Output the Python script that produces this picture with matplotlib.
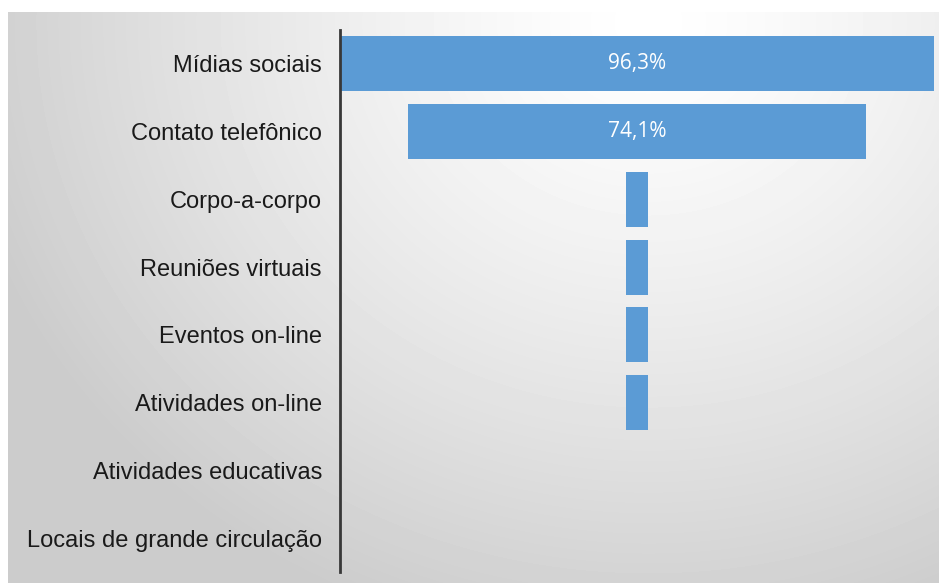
import numpy as np
import matplotlib.pyplot as plt

# funnel data (percent of respondents)
categories = [
    "Mídias sociais",
    "Contato telefônico",
    "Corpo-a-corpo",
    "Reuniões virtuais",
    "Eventos on-line",
    "Atividades on-line",
    "Atividades educativas",
    "Locais de grande circulação",
]
values = [96.3, 74.1, 3.7, 3.7, 3.7, 3.7, 0.0, 0.0]
labels = ["96,3%", "74,1%", "", "", "", "", "", ""]

W, H = 939, 583
fig = plt.figure(figsize=(W / 100, H / 100), dpi=100)
fig.patch.set_facecolor("white")

# gray radial gradient background of the chart area
bg = fig.add_axes([8 / W, 0, 1 - 8 / W, 1 - 12 / H])
yy, xx = np.mgrid[0:H - 12, 0:W - 8]
d = np.hypot((xx - 640) / 1.0, (yy - 10) / 0.9)
shade = 1.0 - 0.20 * np.clip(d / 700, 0, 1) ** 1.3
bg.imshow(shade, cmap="gray", vmin=0, vmax=1, aspect="auto")
bg.axis("off")

ax = fig.add_axes([340 / W, 1 - 572 / H, (934 - 340) / W, (572 - 30) / H])
ax.patch.set_alpha(0)

y = np.arange(len(categories))
v = np.array(values)
ax.barh(y, v, left=-v / 2, height=0.81, color="#5B9BD5")

for yi, lab in zip(y, labels):
    if lab:
        ax.text(0, yi, lab, ha="center", va="center", color="white",
                fontsize=15, family="Open Sans")

half = max(values) / 2
ax.set_xlim(-half, half)
ax.set_ylim(len(categories) - 0.5, -0.5)
ax.set_yticks(y)
ax.set_yticklabels(categories, fontsize=17, family="Liberation Sans", color="#1a1a1a")
ax.tick_params(axis="y", length=0, pad=13)
ax.set_xticks([])
for s in ["top", "right", "bottom"]:
    ax.spines[s].set_visible(False)
ax.spines["left"].set_color("#383838")
ax.spines["left"].set_linewidth(2)

fig.savefig("out.png", dpi=100)
